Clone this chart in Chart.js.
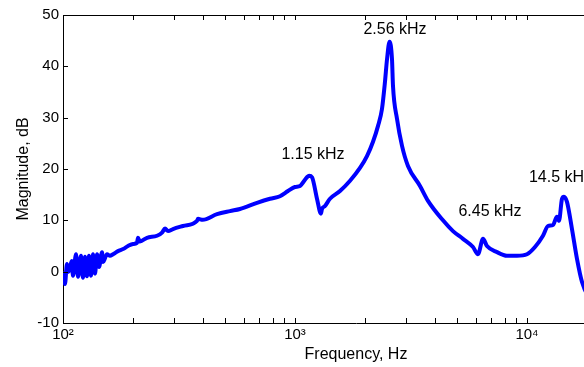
<!DOCTYPE html>
<html lang="en">
<head>
<meta charset="UTF-8">
<title>Magnitude response</title>
<script src="https://cdn.jsdelivr.net/npm/chart.js"></script>
<style>
  html, body { margin: 0; background: #fff; overflow: hidden; }
  /* the plot box runs past the right edge of the window, as in the source figure */
  #wrap { width: 649px; height: 367px; }
</style>
</head>
<body>
<div id="wrap"><canvas id="magChart" width="649" height="367"></canvas></div>
<script>
const freqHz = [100, 102, 104, 106, 109, 110.4, 113.8, 116.1, 119.6, 121.9, 124.4, 126.9, 129.4, 132.0,
  134.7, 137.4, 140.2, 143.0, 147.3, 148.8, 154.8, 159.4, 164.3, 172.6, 181.4, 190.6, 200.4, 208.4,
  210.5, 214.7, 230.2, 254.2, 267.2, 275.3, 283.6, 297.9, 329.0, 378.1, 381.9, 400.0, 461.3, 524.4,
  579.3, 686.0, 780.3, 861.6, 932.8, 1000, 1051, 1126, 1151, 1184, 1244,
  1294, 1307, 1347, 1415, 1563, 1727, 1906, 2043, 2169, 2280, 2371, 2443, 2493, 2556, 2619, 2645,
  2752, 2893, 3069, 3458, 3744, 4344, 4798, 5298, 5852, 6149, 6462, 6723, 7425, 8201, 9056, 10000,
  10826, 11720, 12316, 12943, 13469, 13740, 14155, 14438, 14874, 15630, 16426, 17262, 18900];
const magDb = [-0.3, -2.4, 1.5, 0.0, 2.1, -0.8, 3.4, -1.0, 3.1, -1.2, 2.9, -0.9, 3.1, -0.8,
  3.4, -0.4, 3.4, 0.9, 3.8, 1.9, 3.4, 3.1, 3.4, 4.0, 4.4, 5.0, 5.4, 5.6,
  6.6, 5.9, 6.6, 7.0, 7.6, 8.4, 7.9, 8.3, 8.9, 9.9, 10.3, 10.1, 11.2, 11.8,
  12.2, 13.4, 14.2, 14.7, 15.7, 16.5, 16.7, 18.4, 18.7, 18.4, 14.2,
  11.3, 12.2, 12.8, 14.2, 15.7, 17.7, 20.2, 22.5, 25.3, 28.4, 31.7, 37.0, 41.4, 44.8, 41.4, 36.2,
  29.8, 24.5, 20.6, 16.7, 13.8, 10.0, 7.9, 6.4, 4.8, 3.4, 6.4, 5.0, 3.8, 3.1, 3.1, 3.4,
  4.8, 7.0, 8.9, 9.1, 10.7, 9.9, 14.2, 14.6, 13.6, 8.3, 2.5, -2.0, -6.0];

const yTicks = [-10, 0, 10, 20, 30, 40, 50];
const xTickValues = [100, 200, 300, 400, 500, 600, 700, 800, 900,
  1000, 2000, 3000, 4000, 5000, 6000, 7000, 8000, 9000,
  10000, 20000, 30000];
const xDecades = [100, 1000, 10000];
const xDecadeLabels = ['10²', '10³', '10⁴'];

// peak annotations: text, position (Hz, dB)
const peakNames = ['1.15 kHz', '2.56 kHz', '6.45 kHz', '14.5 kHz'];
const peakFreq = [1196, 2698, 6925, 13945];
const peakDb = [22.8, 47.2, 11.7, 18.4];

const FONT = '"Liberation Sans", Arial, sans-serif';
Chart.defaults.font.family = FONT;
Chart.defaults.color = '#000';

// inside ticks + top edge, MATLAB style
const framePlugin = {
  id: 'frame',
  afterDraw(chart) {
    const {ctx, chartArea: {left, right, top, bottom}, scales: {x, y}} = chart;
    ctx.save();
    ctx.strokeStyle = '#000';
    ctx.lineWidth = 1;
    ctx.beginPath();
    ctx.moveTo(left, top + 0.5);
    ctx.lineTo(right, top + 0.5);
    xTickValues.forEach(v => {
      const px = Math.round(x.getPixelForValue(v)) + 0.5;
      ctx.moveTo(px, bottom); ctx.lineTo(px, bottom - 5);
      ctx.moveTo(px, top); ctx.lineTo(px, top + 5);
    });
    yTicks.forEach(v => {
      const py = Math.round(y.getPixelForValue(v)) + 0.5;
      ctx.moveTo(left, py); ctx.lineTo(left + 5, py);
      ctx.moveTo(right, py); ctx.lineTo(right - 5, py);
    });
    ctx.stroke();
    ctx.restore();
  }
};

const peakLabelPlugin = {
  id: 'peakLabels',
  afterDatasetsDraw(chart) {
    const {ctx, scales: {x, y}} = chart;
    ctx.save();
    ctx.font = '16px ' + FONT;
    ctx.fillStyle = '#000';
    ctx.textAlign = 'center';
    ctx.textBaseline = 'middle';
    peakNames.forEach((t, i) => {
      ctx.fillText(t, x.getPixelForValue(peakFreq[i]), y.getPixelForValue(peakDb[i]));
    });
    ctx.restore();
  }
};

new Chart(document.getElementById('magChart'), {
  type: 'line',
  data: {
    datasets: [{
      data: freqHz.map((f, i) => ({x: f, y: magDb[i]})),
      borderColor: '#0000ff',
      borderWidth: 4,
      borderJoinStyle: 'round',
      borderCapStyle: 'round',
      cubicInterpolationMode: 'monotone',
      pointRadius: 0,
      fill: false
    }]
  },
  options: {
    responsive: false,
    animation: false,
    devicePixelRatio: 1,
    layout: { padding: { top: 15, right: 0, left: 0, bottom: 0 } },
    plugins: { legend: { display: false }, tooltip: { enabled: false } },
    scales: {
      x: {
        type: 'logarithmic',
        min: 100,
        max: 33570,
        afterBuildTicks: s => { s.ticks = xTickValues.map(v => ({value: v})); },
        afterFit: s => { s.height = 44; },
        ticks: {
          autoSkip: false,
          maxRotation: 0,
          padding: 3,
          font: { size: 15 },
          callback: v => {
            const k = xDecades.indexOf(v);
            return k >= 0 ? xDecadeLabels[k] : '';
          }
        },
        grid: { display: false, drawTicks: false },
        border: { display: true, color: '#000', width: 1 },
        title: { display: true, text: 'Frequency, Hz', font: { size: 16 }, padding: { top: 0, bottom: 3 } }
      },
      y: {
        type: 'linear',
        min: -10,
        max: 50,
        afterBuildTicks: s => { s.ticks = yTicks.map(v => ({value: v})); },
        afterFit: s => { s.width = 63; },
        ticks: { autoSkip: false, padding: 4, font: { size: 15 } },
        grid: { display: false, drawTicks: false },
        border: { display: true, color: '#000', width: 1 },
        title: { display: true, text: 'Magnitude, dB', font: { size: 16 }, padding: { top: 14, bottom: 0 } }
      }
    }
  },
  plugins: [framePlugin, peakLabelPlugin]
});
</script>
</body>
</html>
